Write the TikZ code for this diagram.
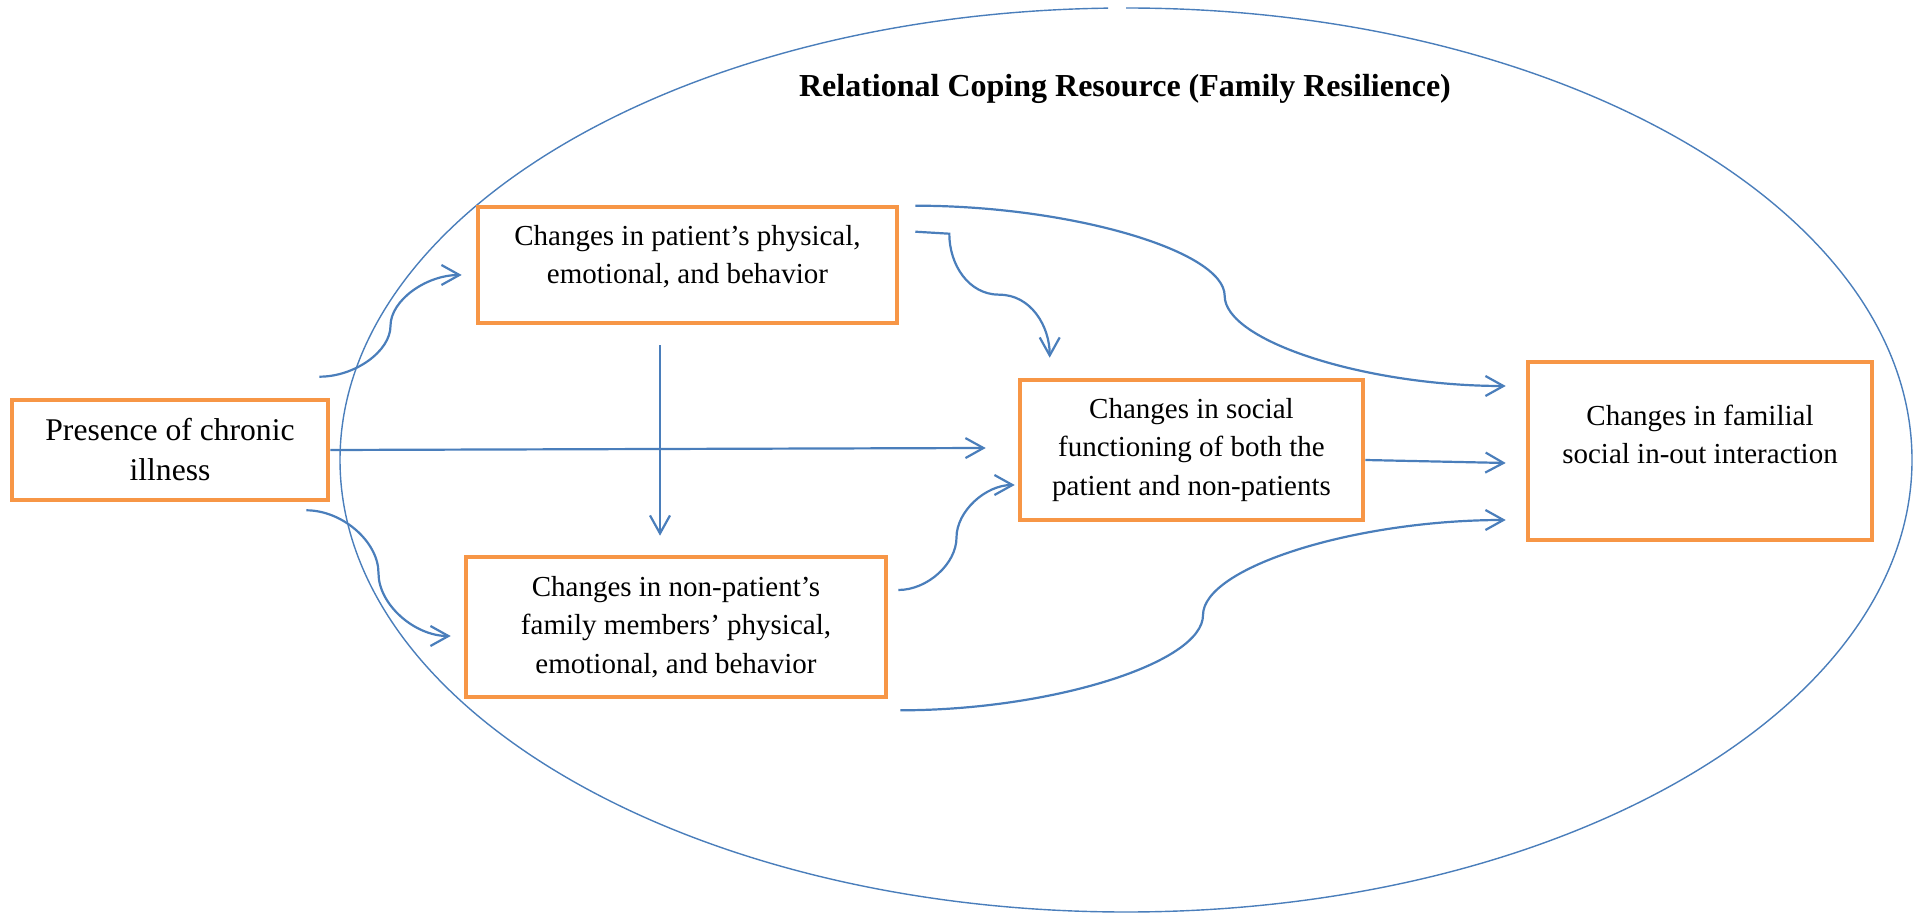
\documentclass[tikz,border=0pt]{standalone}
\usepackage{fontspec}
\setmainfont{Liberation Serif}
\usepackage{xcolor}
\usepackage{tikz}
\usetikzlibrary{positioning,arrows.meta,calc}
\definecolor{offo}{RGB}{247,150,70}
\definecolor{offb}{RGB}{74,126,187}
\newcommand{\cbox}{offo}
\newcommand{\clnk}{offb}
\newcommand{\lowpad}[1]{\rule[-#1]{0pt}{0pt}}
\tikzset{
	every node/.style = { align = center, draw },
	box/.style = { rectangle, draw=\cbox, fill=white, line width=2.3pt, inner sep=0pt, font=\fontsize{14.5}{19.25}\selectfont },
	big/.style = { box, font=\fontsize{15.8}{20}\selectfont },
	clr/.style = { draw=none },
	head/.style = { clr, font=\fontsize{16}{19}\selectfont\bfseries },
	lnk/.style = { draw=\clnk, line width=1.1pt, -{Straight Barb[length=9pt,width=10pt]} },
	ring/.style = { draw=\clnk, line width=0.7pt },
	scurve/.style = { to path={
		let \p1=(\tikztostart), \p2=(\tikztotarget), \p3=($(\tikztostart)!#1!(\tikztotarget)$) in
		.. controls ({(\x1+\x3)/2},\y1) and (\x3,{(3*\y1+\y2)/4}) .. (\x3,{(\y1+\y2)/2})
		.. controls (\x3,{(\y1+3*\y2)/4}) and ({(\x3+\x2)/2},\y2) .. (\tikztotarget) } },
	scurve/.default = 0.5,
}
\begin{document}
\begin{tikzpicture}[x=0.5pt,y=-0.5pt]
\useasboundingbox (0,0) rectangle (1923,914);

\draw[ring] (1126,8) arc[start angle=270, end angle=628.7, x radius=786, y radius=452];
\node (title) [head,anchor=base] at (1125,97) {Relational Coping Resource (Family Resilience)};

\node (pres)   [big,minimum width=158pt,minimum height=50pt]   at (170,450)    {Presence of chronic\\illness};
\node (pat)    [box,minimum width=209.5pt,minimum height=58pt] at (687.5,265)  {Changes in patient’s physical,\\emotional, and behavior\lowpad{10.5pt}};
\node (nonpat) [box,minimum width=210pt,minimum height=70pt]   at (676,627)    {Changes in non-patient’s\\family members’ physical,\\emotional, and behavior};
\node (soc)    [box,minimum width=171.5pt,minimum height=70pt] at (1191.5,450) {Changes in social\\functioning of both the\\patient and non-patients};
\node (fam)    [box,minimum width=172pt,minimum height=89pt]   at (1700,451)   {Changes in familial\\social in-out interaction\lowpad{16.6pt}};

\coordinate (pres-up) at ($(pres.north east)+(-11,-21)$);
\coordinate (pres-dn) at ($(pres.south east)+(-24,8)$);
\coordinate (pat-in)  at ($(pat.west)+(-14,10)$);
\coordinate (pat-dn)  at ($(pat.south)+(-27.5,20)$);
\coordinate (pat-r1)  at ($(pat.north east)+(16,1)$);
\coordinate (pat-r2)  at ($(pat.north east)+(16,27)$);
\coordinate (non-in1) at ($(pat-dn|-nonpat.north)+(0,-19)$);
\coordinate (non-in2) at ($(nonpat.west)+(-13,9)$);
\coordinate (non-r1)  at ($(nonpat.east)+(10,-37)$);
\coordinate (non-r2)  at ($(nonpat.south east)+(12,11)$);
\coordinate (soc-in1) at ($(soc.west)+(-32,-2)$);
\coordinate (soc-in2) at ($(soc.north west)+(32,-20)$);
\coordinate (soc-in3) at ($(soc.west)+(-3,35)$);
\coordinate (fam-in1) at ($(fam.west)+(-20,-65)$);
\coordinate (fam-in2) at ($(fam.west)+(-20,12)$);
\coordinate (fam-in3) at ($(fam.west)+(-20,69)$);

\draw[lnk] (pres-up) to[scurve] (pat-in);
\draw[lnk] (pres.east) -- (soc-in1);
\draw[lnk] (pres-dn) to[scurve] (non-in2);
\draw[lnk] (pat-dn) -- (non-in1);
\draw[lnk] (pat-r2) -- ++(34,2) to[out=-90,in=180] ++(50,61) to[out=0,in=90] (soc-in2);
\draw[lnk] (pat-r1) to[scurve=0.524] (fam-in1);
\draw[lnk] ([yshift=-5pt]soc.east) -- (fam-in2);
\draw[lnk] (non-r1) to[scurve] (soc-in3);
\draw[lnk] (non-r2) to[scurve] (fam-in3);

\end{tikzpicture}
\end{document}
